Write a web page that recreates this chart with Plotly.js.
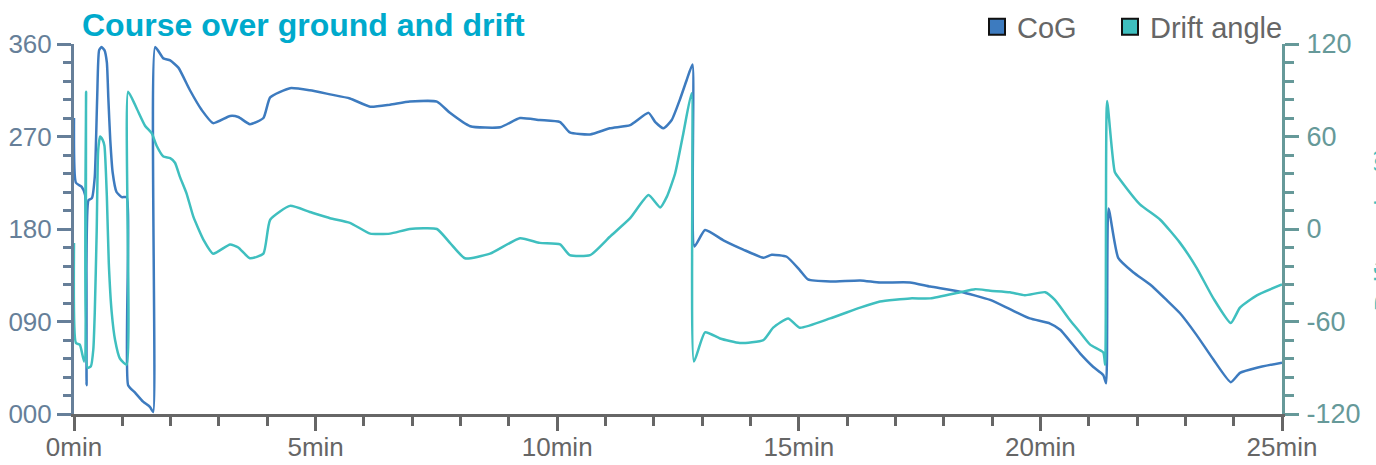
<!DOCTYPE html>
<html>
<head>
<meta charset="utf-8">
<script src="https://cdn.plot.ly/plotly-3.0.1.min.js"></script>
<style>html,body{margin:0;padding:0;background:#fff;}#chart{width:1376px;height:465px;}</style>
</head>
<body>
<div id="chart"></div>
<script>
// Course over ground (degrees, left axis) vs elapsed time (minutes)
const cogTime = [0,0.04,0.16,0.23,0.26,0.30,0.37,0.43,0.48,0.52,0.57,0.63,0.68,0.71,0.75,0.80,0.88,0.99,1.09,1.12,1.26,1.43,1.57,1.64,1.68,1.85,1.99,2.16,2.40,2.64,2.88,3.23,3.40,3.64,3.92,4.06,4.47,4.88,5.30,5.71,6.13,6.54,6.95,7.51,7.78,8.20,8.82,9.23,9.64,10.06,10.26,10.68,11.09,11.51,11.89,12.03,12.20,12.37,12.54,12.68,12.80,12.84,13.06,13.44,13.85,14.27,14.44,14.75,15.02,15.19,15.65,16.27,16.68,17.30,17.72,18.34,18.96,19.37,19.78,20.20,20.41,20.82,21.09,21.30,21.36,21.41,21.61,21.92,22.27,22.61,22.89,23.23,23.58,23.94,24.13,24.48,25.00];
const cogDeg = [288,225,221,213,28,208,210,231,308,354,357,354,342,308,267,235,216,211,211,28,21,12,7,2,357,346,344,337,315,296,283,290,289,282,288,308,317,315,311,307,299,301,304,304,293,280,279,288,286,284,274,272,278,281,293,284,278,286,306,325,340,163,179,169,160,152,155,153,140,131,129,130,128,128,124,119,111,102,93,88,82,59,46,38,30,200,152,138,126,111,98,77,53,31,40,45,50];

// Drift angle (degrees, right axis) vs elapsed time (minutes)
const driftTime = [0,0.04,0.12,0.21,0.25,0.28,0.35,0.40,0.43,0.47,0.50,0.54,0.59,0.63,0.68,0.72,0.78,0.85,0.95,1.09,1.12,1.30,1.47,1.61,1.71,1.85,1.99,2.09,2.19,2.33,2.47,2.68,2.88,3.23,3.40,3.64,3.92,4.06,4.47,4.88,5.30,5.71,6.13,6.54,6.95,7.51,7.78,8.09,8.61,9.23,9.64,10.06,10.26,10.68,11.09,11.51,11.89,12.13,12.27,12.44,12.61,12.78,12.83,13.06,13.37,13.78,14.27,14.47,14.78,15.02,15.65,16.27,16.68,17.30,17.72,18.34,18.65,18.96,19.37,19.68,20.10,20.30,20.61,20.82,21.03,21.30,21.34,21.38,21.54,21.65,22.06,22.48,22.89,23.23,23.58,23.94,24.13,24.48,25.00];
const driftDeg = [-9,-74,-75,-86,89,-90,-89,-78,-54,-1,51,60,58,54,21,-22,-54,-72,-84,-88,89,78,67,62,54,47,46,43,34,23,8,-7,-16,-10,-12,-19,-16,6,15,11,7,4,-3,-3,0,0,-9,-19,-16,-6,-9,-10,-17,-17,-5,7,22,14,21,36,62,88,-86,-67,-71,-74,-72,-64,-58,-64,-58,-51,-47,-45,-45,-41,-39,-40,-41,-43,-41,-46,-59,-67,-75,-80,-88,83,37,32,16,6,-9,-25,-45,-61,-51,-43,-36];

const seriesNames = ['CoG', 'Drift angle'];
const titleText = 'Course over ground and drift';
const rightTitleText = 'Drift angle (°)';
const rightTickVals = [-120, -60, 0, 60, 120];
const rightTickText = rightTickVals.map(v => String(v));

const cogColor = '#3D7BBF';
const driftColor = '#3FBFBF';
const font = '"Liberation Sans", Arial, sans-serif';

const traces = [
  {x: driftTime, y: driftDeg, yaxis: 'y2', type: 'scatter', mode: 'lines',
   line: {color: driftColor, width: 2.5, shape: 'spline', smoothing: 0.5}, showlegend: false, hoverinfo: 'skip'},
  {x: cogTime, y: cogDeg, type: 'scatter', mode: 'lines',
   line: {color: cogColor, width: 2.5, shape: 'spline', smoothing: 0.5}, showlegend: false, hoverinfo: 'skip'},
  {x: [null], y: [null], type: 'scatter', mode: 'markers', name: seriesNames[0], legend: 'legend',
   marker: {symbol: 'square', size: 16, color: cogColor, line: {color: '#111', width: 2}}},
  {x: [null], y: [null], type: 'scatter', mode: 'markers', name: seriesNames[1], legend: 'legend2',
   marker: {symbol: 'square', size: 16, color: driftColor, line: {color: '#111', width: 2}}}
];

const leftCol = '#667F99';
const rightCol = '#669999';
const xCol = '#666666';
const legendFont = {family: font, size: 29, color: '#666666'};

const layout = {
  width: 1376, height: 465,
  margin: {l: 74, r: 94, t: 44, b: 51, pad: 0, autoexpand: false},
  paper_bgcolor: '#fff', plot_bgcolor: '#fff',
  font: {family: font},
  title: {text: '<b>' + titleText + '</b>', font: {family: font, size: 32, color: '#00AACC'},
          xref: 'container', x: 82/1376, xanchor: 'left', yref: 'container', y: 1 - 25/465, yanchor: 'middle'},
  showlegend: true,
  legend: {orientation: 'h', xref: 'container', x: 977/1376, xanchor: 'left', yref: 'container', y: 1 - 27/465, yanchor: 'middle',
           font: legendFont, bgcolor: 'rgba(0,0,0,0)', itemclick: false},
  legend2: {orientation: 'h', xref: 'container', x: 1110/1376, xanchor: 'left', yref: 'container', y: 1 - 27/465, yanchor: 'middle',
           font: legendFont, bgcolor: 'rgba(0,0,0,0)', itemclick: false},
  xaxis: {range: [0, 25], dtick: 5, tick0: 0, ticksuffix: 'min', showgrid: false, zeroline: false,
          showline: true, linecolor: xCol, linewidth: 3, ticks: 'outside', ticklen: 14, tickwidth: 3, tickcolor: xCol,
          tickfont: {family: font, size: 26, color: xCol}, ticklabelstandoff: -6,
          minor: {dtick: 1, ticks: 'outside', ticklen: 9, tickwidth: 3, tickcolor: xCol, showgrid: false}},
  yaxis: {range: [0, 360], dtick: 90, tick0: 0, tickformat: '03d', showgrid: false, zeroline: false,
          showline: true, linecolor: leftCol, linewidth: 3, ticks: 'outside', ticklen: 14, tickwidth: 3, tickcolor: leftCol,
          tickfont: {family: font, size: 26, color: leftCol}, ticklabelstandoff: 0,
          minor: {dtick: 18, ticks: 'outside', ticklen: 8, tickwidth: 3, tickcolor: leftCol, showgrid: false}},
  yaxis2: {range: [-120, 120], tickmode: 'array', tickvals: rightTickVals, ticktext: rightTickText,
           overlaying: 'y', side: 'right', showgrid: false, zeroline: false,
           showline: true, linecolor: rightCol, linewidth: 3, ticks: 'outside', ticklen: 14, tickwidth: 3, tickcolor: rightCol,
           tickfont: {family: font, size: 27, color: rightCol}, ticklabelstandoff: 2,
           minor: {dtick: 12, tick0: 0, ticks: 'outside', ticklen: 9, tickwidth: 3, tickcolor: rightCol, showgrid: false}},
  annotations: [{text: rightTitleText, xref: 'paper', yref: 'paper', x: (1366 - 74) / 1208, y: 0.5,
                 xanchor: 'left', yanchor: 'middle', textangle: -90, showarrow: false,
                 font: {family: font, size: 28, color: driftColor}}]
};

Plotly.newPlot('chart', traces, layout, {displayModeBar: false, staticPlot: true});
</script>
</body>
</html>
